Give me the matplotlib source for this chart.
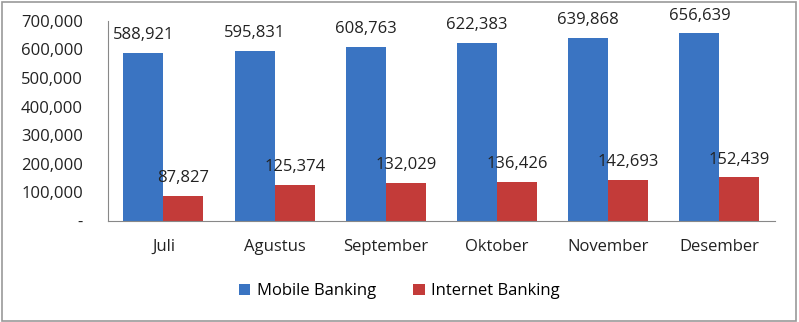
import numpy as np
import matplotlib.pyplot as plt
from matplotlib.ticker import FuncFormatter
from matplotlib.patches import Rectangle

months = ["Juli", "Agustus", "September", "Oktober", "November", "Desember"]
mobile = [588921, 595831, 608763, 622383, 639868, 656639]
internet = [87827, 125374, 132029, 136426, 142693, 152439]

plt.rcParams['font.family'] = ['Open Sans', 'DejaVu Sans']

fig = plt.figure(figsize=(7.99, 3.22), dpi=100)
ax = fig.add_axes([0.135, 0.314, 0.835, 0.621])

x_pos = np.arange(len(months))
w = 0.36
b1 = ax.bar(x_pos - w/2, mobile, width=w, color='#3a74c2', label="Mobile Banking")
b2 = ax.bar(x_pos + w/2, internet, width=w, color='#c33b39', label="Internet Banking")

for bars in (b1, b2):
    ax.bar_label(bars, labels=["{:,}".format(v) for v in bars.datavalues],
                 padding=7, fontsize=12, color='#222222')

ax.set_xlim(-0.5, len(months) - 0.5)
ax.set_ylim(0, 700000)
ax.set_yticks(np.arange(0, 700001, 100000))
ax.yaxis.set_major_formatter(FuncFormatter(lambda v, p: "-" if v == 0 else "{:,}".format(int(v))))
ax.set_xticks(x_pos)
ax.set_xticklabels(months)
ax.tick_params(axis='both', length=0, labelsize=12, colors='#222222')
ax.tick_params(axis='x', pad=13)
ax.tick_params(axis='y', pad=18)
for s in ['top', 'right']:
    ax.spines[s].set_visible(False)
for s in ['left', 'bottom']:
    ax.spines[s].set_color('#888888')

fig.legend(loc='center', bbox_to_anchor=(0.5, 0.095), ncol=2, frameon=False,
           fontsize=12, handlelength=0.7, handleheight=0.7, columnspacing=2.2,
           handletextpad=0.4)

fig.patches.append(Rectangle((0.002, 0.004), 0.994, 0.99, transform=fig.transFigure,
                             fill=False, edgecolor='#999999', linewidth=1.2))

plt.savefig("out.png", dpi=100)
